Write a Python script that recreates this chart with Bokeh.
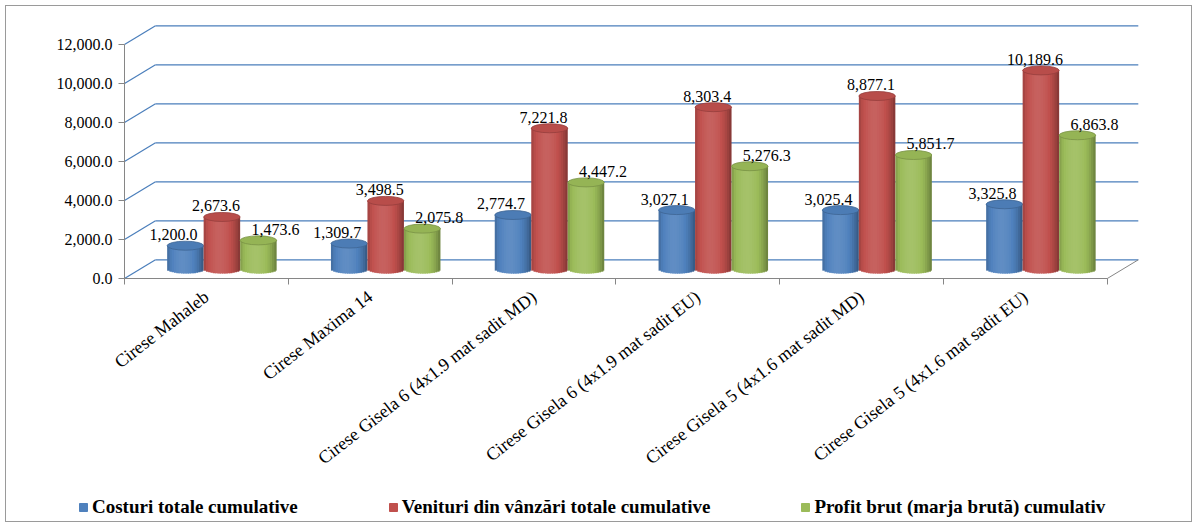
import math
from bokeh.plotting import figure
from bokeh.models import FixedTicker, NumeralTickFormatter, Legend, LegendItem, Range1d
from bokeh.core.properties import value
from bokeh.embed import file_html
from bokeh.resources import INLINE

# ---------------- data ----------------
categories = [
    "Cirese Mahaleb",
    "Cirese Maxima 14",
    "Cirese Gisela 6 (4x1.9 mat sadit MD)",
    "Cirese Gisela 6 (4x1.9 mat sadit EU)",
    "Cirese Gisela 5 (4x1.6 mat sadit MD)",
    "Cirese Gisela 5 (4x1.6 mat sadit EU)",
]
costuri = [1200.0, 1309.7, 2774.7, 3027.1, 3025.4, 3325.8]
venituri = [2673.6, 3498.5, 7221.8, 8303.4, 8877.1, 10189.6]
profit = [1473.6, 2075.8, 4447.2, 5276.3, 5851.7, 6863.8]
series_names = [
    "Costuri totale cumulative",
    "Venituri din vânzări totale cumulative",
    "Profit brut (marja brută) cumulativ",
]
y_ticks = [0, 2000, 4000, 6000, 8000, 10000, 12000]

# ---------------- style / layout ----------------
colors = ["#4F81BD", "#C0504D", "#9BBB59"]
label_dx = [-12, -6, 17]          # px offsets of value labels
GRID = "#4A7EBB"
AXIS = "#868686"
FONT = "Liberation Serif"

W, H = 1187, 517
X0_PX, Y0_PX = 118, 272            # where (0, 0) sits in the figure (px)
PX_CAT = 163.8                     # px per category
PX_Y = 234.0 / 12000.0             # px per value unit

def dxu(px):
    return px / PX_CAT

def dyu(px):
    return px / PX_Y

BACK = (31.0, 18.7)                # depth offset of back wall (px)
MID = (15.5, 9.4)                  # depth offset of bar row (px)
BAR_W = 36.5                       # px
ELL_H = 9.0                        # px
NSTRIP = 16

n = len(categories)

p = figure(width=W, height=H, output_backend="svg", toolbar_location=None,
           x_range=Range1d(-dxu(X0_PX), dxu(W - X0_PX)),
           y_range=Range1d(-dyu(H - Y0_PX), dyu(Y0_PX)),
           min_border=0)
p.outline_line_color = None
p.grid.visible = False
p.background_fill_color = "white"
p.border_fill_color = "white"
p.styles = {"border": "1px solid #9A9A9A", "transform": "translate(5px, 5px)"}

# ---------------- 3D walls ----------------
bx, by = dxu(BACK[0]), dyu(BACK[1])
p.segment(x0=[bx] * len(y_ticks), y0=[v + by for v in y_ticks],
          x1=[n + bx] * len(y_ticks), y1=[v + by for v in y_ticks],
          line_color=GRID, line_width=1.2)
p.segment(x0=[0] * len(y_ticks), y0=y_ticks,
          x1=[bx] * len(y_ticks), y1=[v + by for v in y_ticks],
          line_color=GRID, line_width=1.2)
p.segment(x0=[n], y0=[0], x1=[n + bx], y1=[by], line_color=AXIS, line_width=1)

# ---------------- cylinders ----------------
def shade(hexcol, k):
    r, g, b = (int(hexcol[i:i + 2], 16) for i in (1, 3, 5))
    out = []
    for c in (r, g, b):
        if k >= 0:
            c = c + (255 - c) * k
        else:
            c = c * (1 + k)
        out.append(max(0, min(255, int(round(c)))))
    return "#%02x%02x%02x" % tuple(out)

def profile(u):
    hi = 0.10 * math.exp(-((u - 0.42) / 0.25) ** 2)
    left = 0.22 * math.exp(-u / 0.07)
    right = 0.34 * max(0.0, (u - 0.62) / 0.38) ** 2
    return hi - left - right

mx, my = dxu(MID[0]), dyu(MID[1])
bw = dxu(BAR_W)
sw = bw / NSTRIP
eh_half = dyu(ELL_H / 2.0)
all_series = [costuri, venituri, profit]
legend_items = []

for k, (vals, col) in enumerate(zip(all_series, colors)):
    lefts, rights, tops, bots, cols = [], [], [], [], []
    centers, topsy = [], []
    for i, v in enumerate(vals):
        cx = i + 0.5 + mx + (k - 1) * bw
        centers.append(cx)
        topsy.append(v + my)
        for j in range(NSTRIP):
            u = (j + 0.5) / NSTRIP
            lft = cx - bw / 2 + j * sw
            lefts.append(lft)
            rights.append(min(lft + sw * 1.6, cx + bw / 2))
            tops.append(v + my)
            bots.append(my - eh_half * math.sqrt(max(0.0, 1 - (2 * u - 1) ** 2)))
            cols.append(shade(col, profile(u)))
    p.quad(left=lefts, right=rights, top=tops, bottom=bots, fill_color=cols,
           line_color=None)
    p.ellipse(x=centers, y=topsy, width=BAR_W, height=ELL_H,
              width_units="screen", height_units="screen",
              fill_color=shade(col, -0.04), line_color=shade(col, -0.22),
              line_width=0.8)
    p.text(x=centers, y=topsy, text=["{:,.1f}".format(v) for v in vals],
           text_font=value(FONT), text_font_size="16px", text_color="black",
           text_align="center", text_baseline="alphabetic",
           x_offset=label_dx[k], y_offset=-11)
    r = p.quad(left=[math.nan], right=[math.nan], top=[math.nan], bottom=[math.nan],
               fill_color=col, line_color=col)
    legend_items.append(LegendItem(label=series_names[k], renderers=[r]))

# ---------------- axes (fixed at the origin, inside the frame) ----------------
yax = p.yaxis[0]
yax.fixed_location = 0
yax.ticker = FixedTicker(ticks=y_ticks)
yax.formatter = NumeralTickFormatter(format="0,0.0")
yax.bounds = (0, 12000)
yax.axis_line_color = AXIS
yax.major_tick_line_color = AXIS
yax.major_tick_out = 6
yax.major_tick_in = 0
yax.minor_tick_line_color = None
yax.major_label_text_font = FONT
yax.major_label_text_font_size = "16px"
yax.major_label_text_color = "black"
yax.major_label_standoff = 6

xax = p.xaxis[0]
xax.fixed_location = 0
centers_x = [i + 0.5 for i in range(n)]
xax.ticker = FixedTicker(ticks=centers_x, minor_ticks=list(range(n + 1)))
xax.major_label_overrides = {c: lab for c, lab in zip(centers_x, categories)}
xax.bounds = (0, n)
xax.axis_line_color = AXIS
xax.major_tick_line_color = None
xax.major_tick_out = 0
xax.major_tick_in = 0
xax.minor_tick_line_color = AXIS
xax.minor_tick_out = 6
xax.minor_tick_in = 0
xax.major_label_orientation = 0.66
xax.major_label_text_font = FONT
xax.major_label_text_font_size = "18px"
xax.major_label_text_color = "black"
xax.major_label_standoff = 10

# ---------------- legend ----------------
legend = Legend(items=legend_items, orientation="horizontal", location=(72, 5),
                label_text_font=FONT, label_text_font_size="19px",
                label_text_font_style="bold", label_text_color="black",
                glyph_width=10, glyph_height=10, label_standoff=4,
                spacing=90, padding=0, margin=0,
                border_line_color=None, background_fill_alpha=0)
p.add_layout(legend, "center")

open("out.html", "w").write(file_html(p, INLINE))
